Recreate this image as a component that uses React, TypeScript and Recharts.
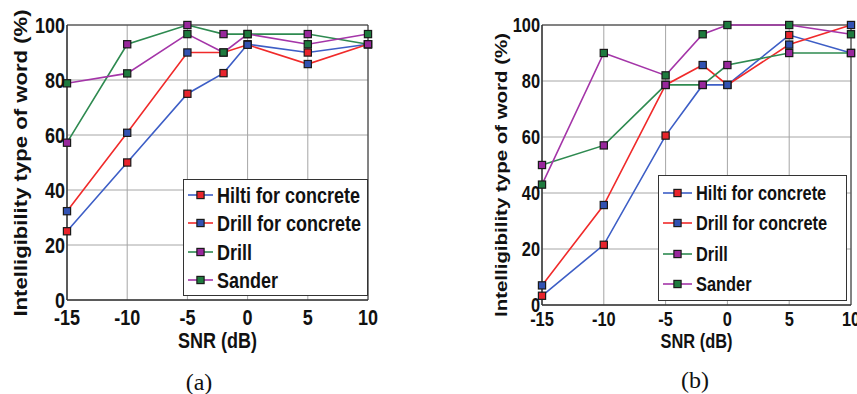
import React from 'react';
import { LineChart, Line, XAxis, YAxis, CartesianGrid, ReferenceArea, Legend, Label } from 'recharts';

// ---- data ----
const snr = [-15, -10, -5, -2, 0, 5, 10];
const xTicks = [-15, -10, -5, 0, 5, 10];
const yTicks = [0, 20, 40, 60, 80, 100];
const seriesNames = ['Hilti for concrete', 'Drill for concrete', 'Drill', 'Sander'];
const lineColors = ['#3d5ec6', '#f02a2a', '#2e8a50', '#a435a8'];
const markerColors = ['#e8242c', '#3252b2', '#98289c', '#1e7a3e'];

// panel (a)
const hiltiA = [25, 50, 75, 82.5, 93, 90, 93];
const drillConcreteA = [32.3, 60.8, 90, 90, 92.8, 85.8, 93];
const drillA = [57.2, 93, 100, 96.7, 96.7, 96.7, 93];
const sanderA = [78.8, 82.4, 96.7, 90, 96.7, 93, 96.7];

// panel (b)
const hiltiB = [3.3, 21.5, 60.5, 78.6, 78.6, 96.4, 90];
const drillConcreteB = [7, 35.7, 78.6, 85.7, 78.6, 93, 100];
const drillB = [50, 57, 78.6, 78.6, 85.7, 90, 90];
const sanderB = [43, 90, 82, 96.7, 100, 100, 96.7];

const yLabelText = 'Intelligibility type of word (%)';
const xLabelText = 'SNR (dB)';

const FONT = '"Liberation Sans", Arial, sans-serif';
const SERIF = '"Liberation Serif", "Times New Roman", serif';
const INK = '#111';

function buildData(series: number[][]) {
  return snr.map((x, i) => {
    const row: Record<string, number> = { snr: x };
    series.forEach((s, k) => {
      row['s' + k] = s[i];
    });
    return row;
  });
}

type Cfg = {
  left: number;
  width: number;
  margin: { top: number; right: number; bottom: number; left: number };
  yAxisWidth: number;
  xAxisHeight: number;
  fs: number;
  sy: number;
  xTickDy: number;
  yLabel: { x: number; y: number; fs: number; sx: number };
  xLabelY: number;
  plotCenterX: number;
  legend: { x: number; y: number; w: number; h: number; rows: number[]; line: [number, number]; mx: number; tx: number; fs: number };
  caption: string;
  captionX: number;
  captionY: number;
};

const cfgA: Cfg = {
  left: 0,
  width: 430,
  margin: { top: 25, right: 62, bottom: 64, left: 0 },
  yAxisWidth: 67,
  xAxisHeight: 30,
  fs: 18,
  sy: 1.18,
  xTickDy: 17,
  yLabel: { x: 27, y: 163, fs: 18, sx: 1.23 },
  xLabelY: 340,
  plotCenterX: 217.5,
  legend: { x: 183, y: 179, w: 185, h: 117, rows: [16, 44, 73, 101], line: [5, 30], mx: 17.5, tx: 34, fs: 18 },
  caption: '(a)',
  captionX: 199,
  captionY: 382,
};

const cfgB: Cfg = {
  left: 430,
  width: 430,
  margin: { top: 25, right: 9, bottom: 59, left: 0 },
  yAxisWidth: 112,
  xAxisHeight: 30,
  fs: 16.4,
  sy: 1.18,
  xTickDy: 14,
  yLabel: { x: 77, y: 175, fs: 16.5, sx: 1.24 },
  xLabelY: 341,
  plotCenterX: 266.5,
  legend: { x: 228, y: 175, w: 189, h: 126, rows: [18, 48, 79, 109], line: [5, 34], mx: 19.5, tx: 38, fs: 16.4 },
  caption: '(b)',
  captionX: 265,
  captionY: 380,
};

function makeDot(k: number) {
  return (props: any) => {
    const { cx, cy, index } = props;
    if (cx == null || cy == null) return <g key={`d${k}-${index}`} />;
    return (
      <rect
        key={`d${k}-${index}`}
        x={cx - 3.6}
        y={cy - 3.6}
        width={7.2}
        height={7.2}
        fill={markerColors[k]}
        stroke="#1a1a1a"
        strokeWidth={1.2}
      />
    );
  };
}

function Panel({ cfg, series }: { cfg: Cfg; series: number[][] }) {
  const data = buildData(series);
  const height = 394;
  const plotBottom = height - cfg.margin.bottom - cfg.xAxisHeight;

  const YTick = (p: any) => (
    <g transform={`translate(${p.x - 2},${p.y}) scale(1,${cfg.sy})`}>
      <text x={0} y={0} dy="0.36em" textAnchor="end" fontFamily={FONT} fontWeight="bold" fontSize={cfg.fs} fill={INK}>
        {p.payload.value}
      </text>
    </g>
  );
  const XTick = (p: any) => (
    <g transform={`translate(${p.x},${plotBottom + cfg.xTickDy}) scale(1,${cfg.sy})`}>
      <text x={0} y={0} dy="0.36em" textAnchor="middle" fontFamily={FONT} fontWeight="bold" fontSize={cfg.fs} fill={INK}>
        {p.payload.value}
      </text>
    </g>
  );

  const LegendBox = () => {
    const L = cfg.legend;
    return (
      <svg width={L.w} height={L.h} style={{ display: 'block' }}>
        <rect x={0.5} y={0.5} width={L.w - 1} height={L.h - 1} fill="#fff" stroke="#333" strokeWidth={1} />
        {seriesNames.map((name, k) => (
          <g key={name}>
            <line x1={L.line[0]} x2={L.line[1]} y1={L.rows[k]} y2={L.rows[k]} stroke={lineColors[k]} strokeWidth={1.6} />
            <rect x={L.mx - 3.6} y={L.rows[k] - 3.6} width={7.2} height={7.2} fill={markerColors[k]} stroke="#1a1a1a" strokeWidth={1.2} />
            <g transform={`translate(${L.tx},${L.rows[k]}) scale(1,${cfg.sy})`}>
              <text x={0} y={0} dy="0.36em" fontFamily={FONT} fontWeight="bold" fontSize={L.fs} fill={INK}>
                {name}
              </text>
            </g>
          </g>
        ))}
      </svg>
    );
  };

  return (
    <div style={{ position: 'absolute', left: cfg.left, top: 0, width: cfg.width, height }}>
      <LineChart width={cfg.width} height={height} data={data} margin={cfg.margin}>
        <CartesianGrid stroke="#a6a6a6" strokeWidth={1} />
        <XAxis
          dataKey="snr"
          type="number"
          domain={[-15, 10]}
          ticks={xTicks}
          height={cfg.xAxisHeight}
          tickSize={0}
          tickMargin={0}
          tickLine={false}
          axisLine={{ stroke: '#333' }}
          tick={XTick}
          interval={0}
        >
          <Label
            content={() => (
              <g transform={`translate(${cfg.plotCenterX},${cfg.xLabelY}) scale(1,${cfg.sy})`}>
                <text x={0} y={0} dy="0.36em" textAnchor="middle" fontFamily={FONT} fontWeight="bold" fontSize={cfg.fs} fill={INK}>
                  {xLabelText}
                </text>
              </g>
            )}
          />
        </XAxis>
        <YAxis
          type="number"
          domain={[0, 100]}
          ticks={yTicks}
          width={cfg.yAxisWidth}
          tickSize={0}
          tickMargin={0}
          tickLine={false}
          axisLine={{ stroke: '#333' }}
          tick={YTick}
          interval={0}
        >
          <Label
            content={() => (
              <g transform={`translate(${cfg.yLabel.x},${cfg.yLabel.y}) rotate(-90) scale(${cfg.yLabel.sx},1)`}>
                <text x={0} y={0} textAnchor="middle" fontFamily={FONT} fontWeight="bold" fontSize={cfg.yLabel.fs} fill={INK}>
                  {yLabelText}
                </text>
              </g>
            )}
          />
        </YAxis>
        <ReferenceArea x1={-15} x2={10} y1={0} y2={100} fill="none" stroke="#333" strokeWidth={1} ifOverflow="visible" />
        {seriesNames.map((name, k) => (
          <Line
            key={name}
            dataKey={'s' + k}
            name={name}
            type="linear"
            stroke={lineColors[k]}
            strokeWidth={1.6}
            dot={makeDot(k)}
            activeDot={false}
            isAnimationActive={false}
          />
        ))}
        <Legend
          layout="horizontal"
          verticalAlign="middle"
          align="center"
          wrapperStyle={{ position: 'absolute', left: cfg.legend.x, top: cfg.legend.y, width: cfg.legend.w, height: cfg.legend.h, margin: 0, padding: 0 }}
          content={() => <LegendBox />}
        />
      </LineChart>
      <svg style={{ position: 'absolute', left: 0, top: 0, pointerEvents: 'none' }} width={cfg.width} height={height}>
        <text x={cfg.captionX} y={cfg.captionY} dy="0.35em" textAnchor="middle" fontFamily={SERIF} fontSize={24} fill={INK}>
          {cfg.caption}
        </text>
      </svg>
    </div>
  );
}

export default function App() {
  return (
    <div style={{ position: 'absolute', left: 0, top: 0, width: 857, height: 394, overflow: 'hidden', background: '#fff' }}>
      <Panel cfg={cfgA} series={[hiltiA, drillConcreteA, drillA, sanderA]} />
      <Panel cfg={cfgB} series={[hiltiB, drillConcreteB, drillB, sanderB]} />
    </div>
  );
}
